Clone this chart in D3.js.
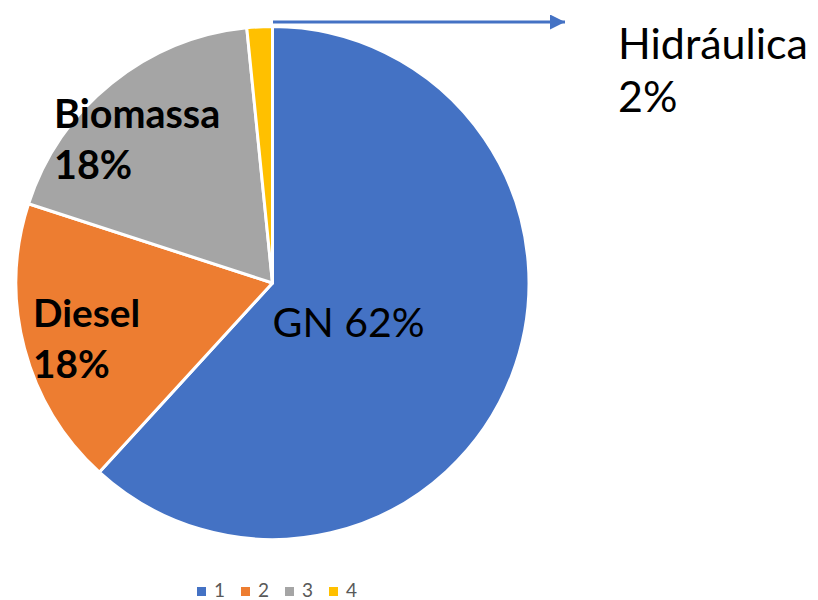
<!DOCTYPE html>
<html>
<head>
<meta charset="utf-8">
<script src="https://cdn.jsdelivr.net/npm/d3@7"></script>
<style>
  body { margin: 0; background: #fff; }
  text { font-family: Lato, "Open Sans", sans-serif; }
</style>
</head>
<body>
<svg id="chart" width="818" height="600"></svg>
<script>
// Data
const categories = ["GN", "Diesel", "Biomassa", "Hidráulica"];
const values = [61.8, 18.2, 18.4, 1.6];
const percentLabels = ["62%", "18%", "18%", "2%"];
const legendLabels = ["1", "2", "3", "4"];
const colors = ["#4472c4", "#ed7d31", "#a5a5a5", "#ffc000"];

const svg = d3.select("#chart"),
      cx = 272.5, cy = 283, radius = 256.5;

const pie = d3.pie().sort(null).value(d => d);
const arc = d3.arc().innerRadius(0).outerRadius(radius);
const arcs = pie(values);

const g = svg.append("g").attr("transform", `translate(${cx},${cy})`);

g.selectAll("path")
    .data(arcs)
    .enter()
    .append("path")
    .attr("d", arc)
    .attr("fill", (d, i) => colors[i])
    .attr("stroke", "#fff")
    .attr("stroke-width", 3)
    .attr("stroke-linejoin", "round");

// Labels: GN inside, Diesel and Biomassa bold at left, Hidráulica via arrow
g.append("text")
    .attr("x", 0).attr("y", 337 - cy)
    .attr("font-size", 41)
    .attr("fill", "#000")
    .text(`${categories[0]} ${percentLabels[0]}`);

const boldLabels = [
    { i: 1, x: 33 - cx, y: 327 - cy, size: 38.8 },
    { i: 2, x: 54 - cx, y: 128 - cy, size: 39.5 }
];
boldLabels.forEach(b => {
    const t = g.append("text")
        .attr("font-size", b.size)
        .attr("font-weight", "bold")
        .attr("fill", "#000");
    t.append("tspan").attr("x", b.x).attr("y", b.y).text(categories[b.i]);
    t.append("tspan").attr("x", b.x).attr("y", b.y + 51).text(percentLabels[b.i]);
});

// Arrow for the small slice
const defs = svg.append("defs");
defs.append("marker")
    .attr("id", "arrow")
    .attr("viewBox", "0 0 10 10")
    .attr("refX", 10).attr("refY", 5)
    .attr("markerWidth", 5).attr("markerHeight", 5)
    .attr("markerUnits", "strokeWidth")
    .attr("orient", "auto")
    .append("path")
    .attr("d", "M0,0 L10,5 L0,10 Z")
    .attr("fill", colors[0]);

svg.append("line")
    .attr("x1", 273).attr("y1", 22)
    .attr("x2", 565).attr("y2", 22)
    .attr("stroke", colors[0])
    .attr("stroke-width", 3)
    .attr("marker-end", "url(#arrow)");

const hyd = svg.append("text")
    .attr("font-size", 43)
    .attr("fill", "#000");
hyd.append("tspan").attr("x", 618).attr("y", 59).text(categories[3]);
hyd.append("tspan").attr("x", 618).attr("y", 112).text(percentLabels[3]);

// Legend
const legend = svg.append("g")
    .selectAll("g")
    .data(legendLabels)
    .enter()
    .append("g")
    .attr("transform", (d, i) => `translate(${197 + i * 44},587)`);

legend.append("rect")
    .attr("width", 9).attr("height", 9)
    .attr("fill", (d, i) => colors[i]);

legend.append("text")
    .attr("x", 17).attr("y", 9.5)
    .attr("font-size", 19)
    .attr("fill", "#595959")
    .text(d => d);
</script>
</body>
</html>
